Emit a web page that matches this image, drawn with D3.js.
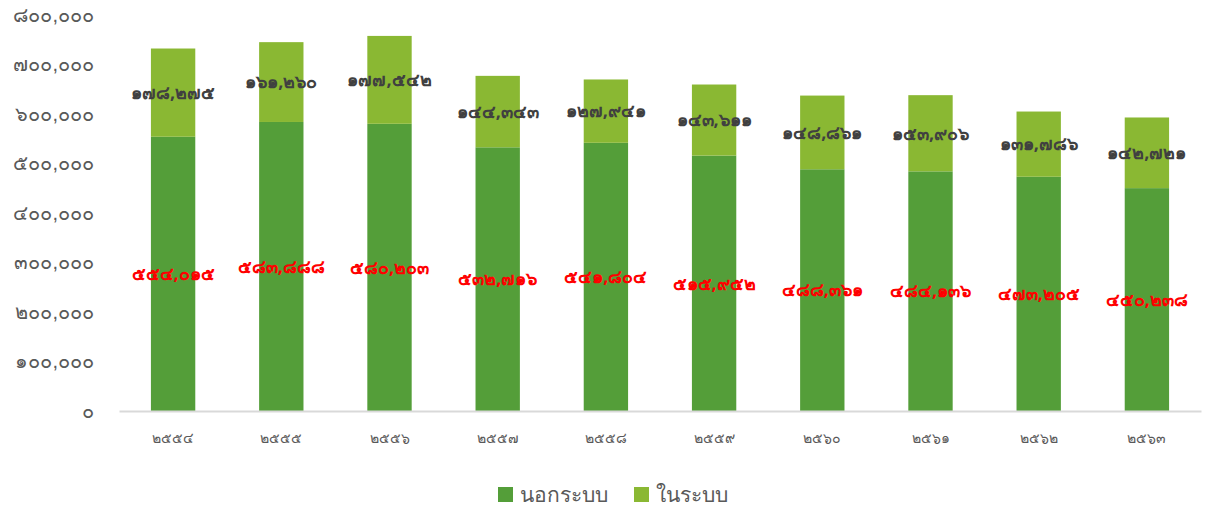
<!DOCTYPE html>
<html><head><meta charset="utf-8">
<script src="https://cdn.jsdelivr.net/npm/d3@7/dist/d3.min.js"></script>
<style>body{margin:0;background:#fff;font-family:"Noto Sans","DejaVu Sans",sans-serif;}</style>
</head><body><svg id="c" width="1208" height="507"></svg>
<script>
const categories = ["2554","2555","2556","2557","2558","2559","2560","2561","2562","2563"];
const outside = [554015,583888,580203,532716,541804,515952,488361,484136,473205,450238];
const inside = [178275,161260,177542,144343,127941,143611,148861,153906,131786,142721];
const yTicks = [0,100000,200000,300000,400000,500000,600000,700000,800000];
const seriesNames = ["นอกระบบ","ในระบบ"];
const colors = ["#549E39","#8AB833"];

const thaiDigits = "๐๑๒๓๔๕๖๗๘๙";
const toThai = s => String(s).replace(/[0-9]/g, d => thaiDigits[+d]);
const fmt = v => toThai(d3.format(",")(v));

const svg = d3.select("#c");
const m = {l:119, r:1201, t:15, b:411};
const x = d3.scaleBand().domain(categories).range([m.l, m.r]).paddingInner(0.59).paddingOuter(0.295);
const y = d3.scaleLinear().domain([0,800000]).range([m.b, m.t]);

// y axis labels
const yAx = svg.append("g").attr("transform",`translate(${94},0)`)
  .call(d3.axisLeft(y).tickValues(yTicks).tickSize(0).tickPadding(0).tickFormat(fmt));
yAx.select(".domain").remove();
yAx.selectAll("text").attr("fill","#595959").style("font-size","20px").attr("dy","0.32em");

const data = categories.map((c,i)=>({c, o: outside[i], n: inside[i]}));
const g = svg.append("g");
g.selectAll("rect.o").data(data).join("rect").attr("class","o")
  .attr("x", d=>x(d.c)).attr("width", x.bandwidth())
  .attr("y", d=>y(d.o)).attr("height", d=>y(0)-y(d.o)).attr("fill", colors[0]);
g.selectAll("rect.n").data(data).join("rect").attr("class","n")
  .attr("x", d=>x(d.c)).attr("width", x.bandwidth())
  .attr("y", d=>y(d.o+d.n)).attr("height", d=>y(d.o)-y(d.o+d.n)).attr("fill", colors[1]);

// x axis
const xAx = svg.append("g").attr("transform",`translate(0,${y(0)})`)
  .call(d3.axisBottom(x).tickSize(0).tickPadding(22).tickFormat(toThai));
xAx.select(".domain").attr("stroke","#D9D9D9").attr("stroke-width",2);
xAx.selectAll("text").attr("fill","#595959").style("font-size","14px");

// labels
g.selectAll("text.lo").data(data).join("text").attr("class","lo")
  .attr("x", d=>x(d.c)+x.bandwidth()/2).attr("y", d=>y(d.o/2)).attr("dy","0.35em")
  .attr("text-anchor","middle").attr("fill","#FF0000").style("font-size","18px").style("font-weight","bold")
  .text(d=>fmt(d.o));
g.selectAll("text.ln").data(data).join("text").attr("class","ln")
  .attr("x", d=>x(d.c)+x.bandwidth()/2).attr("y", d=>y(d.o+d.n/2)).attr("dy","0.35em")
  .attr("text-anchor","middle").attr("fill","#404040").style("font-size","18px").style("font-weight","bold")
  .text(d=>fmt(d.n));

// legend
const lg = svg.append("g").attr("transform","translate(498,495)");
const items = [{n:seriesNames[0], c:colors[0], x:0},{n:seriesNames[1], c:colors[1], x:136}];
items.forEach(it=>{
  lg.append("rect").attr("x",it.x).attr("y",-8).attr("width",15).attr("height",15).attr("fill",it.c);
  lg.append("text").attr("x",it.x+22).attr("y",0).attr("dy","0.35em").attr("fill","#595959")
    .style("font-size","21px").text(it.n);
});
</script></body></html>
